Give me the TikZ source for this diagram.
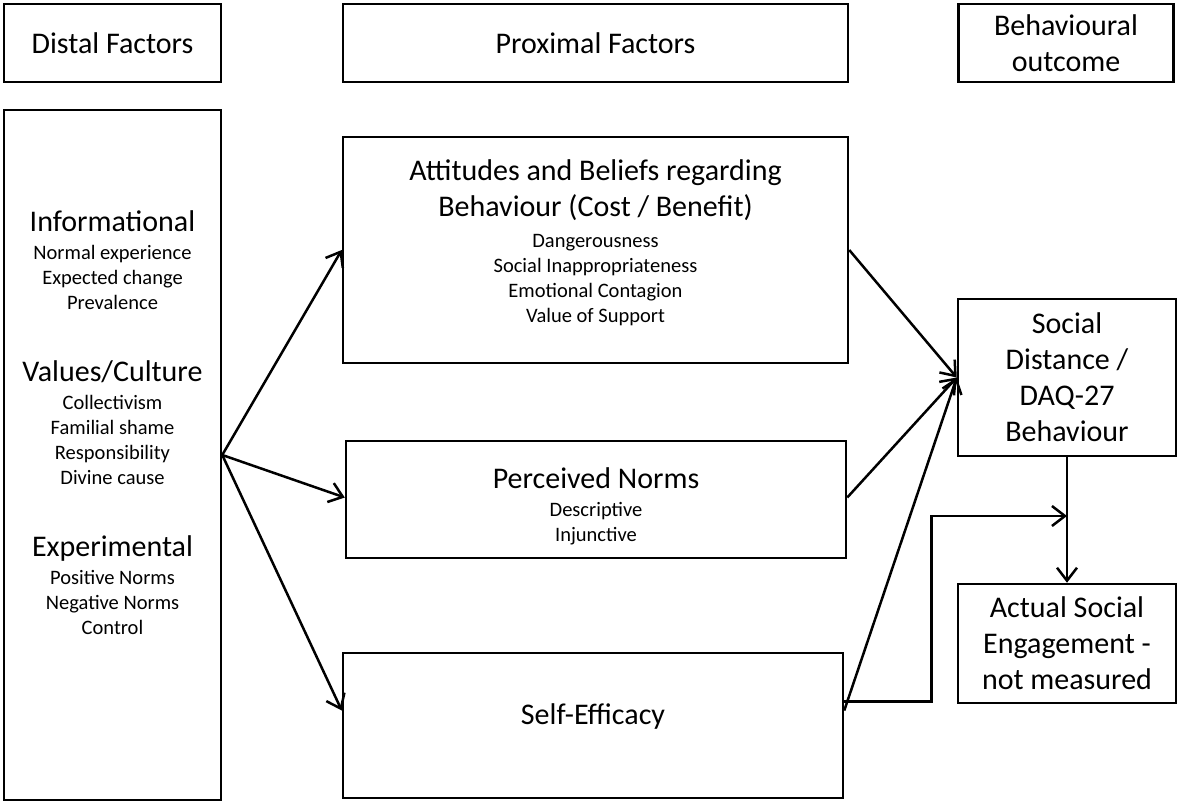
\documentclass[tikz,border=0pt]{standalone}
\usepackage{fontspec}
\setmainfont{Carlito}
\usetikzlibrary{arrows.meta}
\newcommand{\bigtxt}{\fontsize{30}{36}\selectfont}
\newcommand{\smalltxt}{\fontsize{20.5}{25}\selectfont}

\begin{document}
\begin{tikzpicture}[x=1pt, y=-1pt, align=center,
  box/.style={rectangle, draw=black, line width=2.5pt, inner sep=0pt, font=\bigtxt},
  link/.style={line width=2.5pt, -{Straight Barb[length=13pt, width=20pt]}},
  every node/.style={text=black} ]

\useasboundingbox (0,0) rectangle (1178,802);

% Column headers
\node[box, minimum width=217, minimum height=78] (distalhead) at (112.5,43) {Distal Factors};
\node[box, minimum width=505, minimum height=78] (proxhead) at (595.5,43) {Proximal Factors};
\node[box, minimum width=215, minimum height=78] (outhead) at (1066,43) {Behavioural\\ outcome};

% Distal factors
\node[box, minimum width=217, minimum height=690] (distal) at (112.5,455) {};
\node[font=\smalltxt] (distaltxt) at (112.5,423) {{\bigtxt Informational}\\[3pt] Normal experience\\
  Expected change\\ Prevalence\\[47pt] {\bigtxt Values/Culture}\\[3pt]
  Collectivism\\ Familial shame\\ Responsibility\\
  Divine cause\\[47pt] {\bigtxt Experimental}\\[3pt] Positive Norms\\
  Negative Norms\\ Control};

% Proximal factors
\node[box, minimum width=505, minimum height=226] (attitudes) at (595.5,250) {};
\node[font=\smalltxt] (atttxt) at (595.5,243) {{\bigtxt Attitudes and Beliefs regarding}\\[8pt]
  {\bigtxt Behaviour (Cost / Benefit)}\\[6pt]
  Dangerousness\\ Social Inappropriateness\\ Emotional Contagion\\ Value of Support};
\node[box, minimum width=500, minimum height=117] (norms) at (596,499.5) {};
\node[font=\smalltxt] (normstxt) at (596,506) {{\bigtxt Perceived Norms}\\[3pt] Descriptive\\ Injunctive};
\node[box, minimum width=500, minimum height=145, text depth=22pt] (efficacy) at (593,725.5) {Self-Efficacy};

% Behavioural outcome
\node[box, minimum width=218, minimum height=157] (distance) at (1067,377.5) {Social\\ Distance /\\ DAQ-27\\ Behaviour};
\node[box, minimum width=218, minimum height=119] (actual) at (1067,643.5) {Actual Social\\ Engagement -\\ not measured};

% distal -> proximal
\draw[link] (distal.east) -- (attitudes.west);
\draw[link] (distal.east) -- ([yshift=2pt]norms.west);
\draw[link] (distal.east) -- ([yshift=15pt]efficacy.west);

% proximal -> social distance
\draw[link] (attitudes.east) -- (distance.west);
\draw[link] ([yshift=2pt]norms.east) -- (distance.west);
\draw[link] ([yshift=15pt]efficacy.east) -- (distance.west);

% social distance -> engagement
\draw[link] (distance.south) -- (actual.north);
\coordinate (join) at (1067,516);
\draw[link] ([yshift=24pt]efficacy.east) -- ++(87,0) |- (join);

\end{tikzpicture}
\end{document}
